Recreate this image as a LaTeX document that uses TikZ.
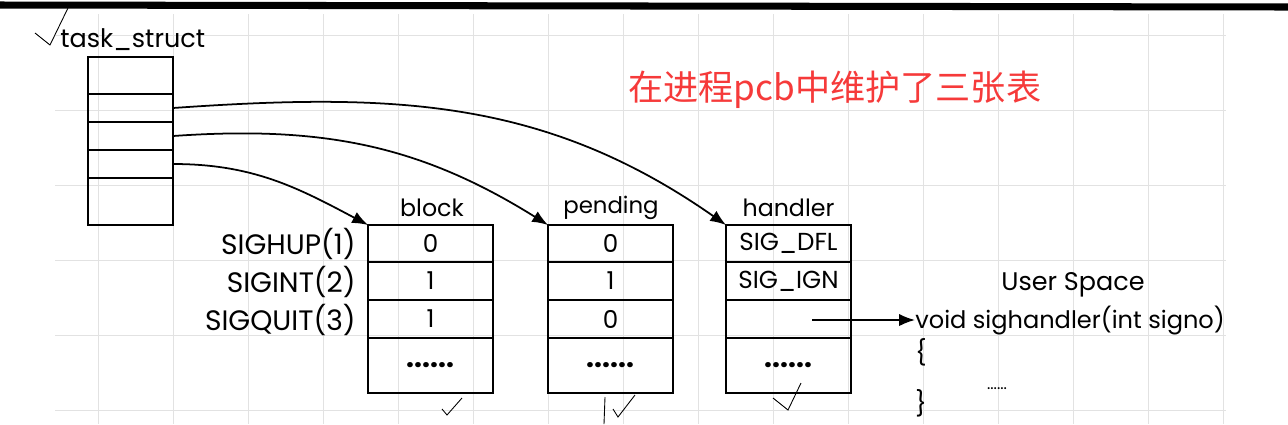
\documentclass[tikz,border=0pt]{standalone}
\usepackage{fontspec}
\setmainfont{Poppins}
\newfontfamily\cjkfont{Noto Sans CJK SC}
\usetikzlibrary{arrows.meta}
\definecolor{notered}{RGB}{246,58,58}
\definecolor{gridgray}{RGB}{226,226,226}

\begin{document}
\begin{tikzpicture}[x=0.02cm, y=-0.02cm,
    txt/.style={inner sep=0pt, font=\fontsize{13.5}{16}\selectfont},
    sigtxt/.style={inner sep=0pt, anchor=east, font=\fontsize{16}{19}\selectfont},
    cell/.style={draw, line width=1pt, minimum width=2.5cm, inner sep=0pt, outer sep=0pt,
                 font=\fontsize{14}{16}\selectfont},
    tcell/.style={draw, line width=1pt, minimum width=1.7cm, inner sep=0pt, outer sep=0pt},
    dots/.style={font=\fontsize{16}{18}\selectfont\bfseries},
    ptr/.style={line width=1pt, -{Latex[length=9pt, width=7pt]}},
    tick/.style={line width=0.5pt}]
  \useasboundingbox (0,0) rectangle (1288,424);
  % Screenshot background: faint grid and the thick bar on top.
  \fill[white] (0,0) rectangle (1288,424);
  \foreach \x in {98,173,...,1223} \draw[gridgray] (\x,14) -- (\x,424);
  \foreach \y in {35,110,...,410} \draw[gridgray] (55,\y) -- (1226,\y);
  \draw[line width=4pt] (0,5) -- (1288,7);

  % task_struct with its five slots.
  \node[txt, anchor=west, font=\fontsize{14.5}{17}\selectfont] (tsname) at (60,40) {task\_struct};
  \node[tcell, minimum height=0.74cm] (t1) at (130.5,75.5) {};
  \node[tcell, minimum height=0.56cm] (t2) at (130.5,108) {};
  \node[tcell, minimum height=0.56cm] (t3) at (130.5,136) {};
  \node[tcell, minimum height=0.56cm] (t4) at (130.5,164) {};
  \node[tcell, minimum height=0.94cm] (t5) at (130.5,201.5) {};

  % Red note.
  \node[inner sep=0pt, anchor=west, text=notered, font=\cjkfont\fontsize{20}{24}\selectfont]
    (note) at (628,90) {在进程pcb中维护了三张表};

  % Signal names.
  \node[sigtxt] (s1) at (356,244) {SIGHUP(1)};
  \node[sigtxt] (s2) at (356,282) {SIGINT(2)};
  \node[sigtxt] (s3) at (356,320) {SIGQUIT(3)};

  % block table.
  \node[txt] (blk) at (432,208) {block};
  \node[cell, minimum height=0.74cm] (b1) at (430.5,243.5) {0};
  \node[cell, minimum height=0.76cm] (b2) at (430.5,281) {1};
  \node[cell, minimum height=0.76cm] (b3) at (430.5,319) {1};
  \node[cell, minimum height=1.1cm, dots] (b4) at (430.5,365.5) {......};

  % pending table.
  \node[txt, font=\fontsize{13}{16}\selectfont] (pnd) at (611,208) {pending};
  \node[cell, minimum height=0.74cm] (p1) at (610.5,243.5) {0};
  \node[cell, minimum height=0.76cm] (p2) at (610.5,281) {1};
  \node[cell, minimum height=0.76cm] (p3) at (610.5,319) {0};
  \node[cell, minimum height=1.1cm, dots] (p4) at (610.5,365.5) {......};

  % handler table.
  \node[txt] (hdl) at (788.5,208) {handler};
  \node[cell, minimum height=0.74cm] (h1) at (788.5,243.5) {SIG\_DFL};
  \node[cell, minimum height=0.76cm] (h2) at (788.5,281) {SIG\_IGN};
  \node[cell, minimum height=0.76cm] (h3) at (788.5,319) {};
  \node[cell, minimum height=1.1cm, dots] (h4) at (788.5,365.5) {......};

  % User space handler.
  \node[txt, font=\fontsize{14.5}{17}\selectfont] (usp) at (1073,285) {User Space};
  \node[txt, anchor=west, font=\fontsize{13.7}{17}\selectfont] (sig) at (915,320) {void sighandler(int signo)};
  \node[txt, font=\fontsize{14}{17}\selectfont] (lbr) at (921,352) {\{};
  \node[txt, font=\fontsize{9}{10}\selectfont] (body) at (997,389) {......};
  \node[txt, font=\fontsize{14}{17}\selectfont] (rbr) at (921,403) {\}};

  % Pointers from task_struct to the tables.
  \draw[ptr] (t2.east) to[out=4, in=145] (h1.north west);
  \draw[ptr] (t3.east) to[out=4, in=148] (p1.north west);
  \draw[ptr] (t4.east) to[out=0, in=152] (b1.north west);
  \coordinate (hptr) at (812,320);
  \draw[ptr] (hptr) -- (sig.west);

  % Hand-drawn ticks.
  \draw[tick] (35,33) -- (50,45) -- (68,8);
  \draw[tick] (442,409) -- (447,415) -- (462,398);
  \draw[tick] (605,397) -- (604,424);
  \draw[tick] (613,409) -- (618,417) -- (635,395);
  \draw[tick] (773,398) -- (788,410) -- (801,383);
\end{tikzpicture}
\end{document}
